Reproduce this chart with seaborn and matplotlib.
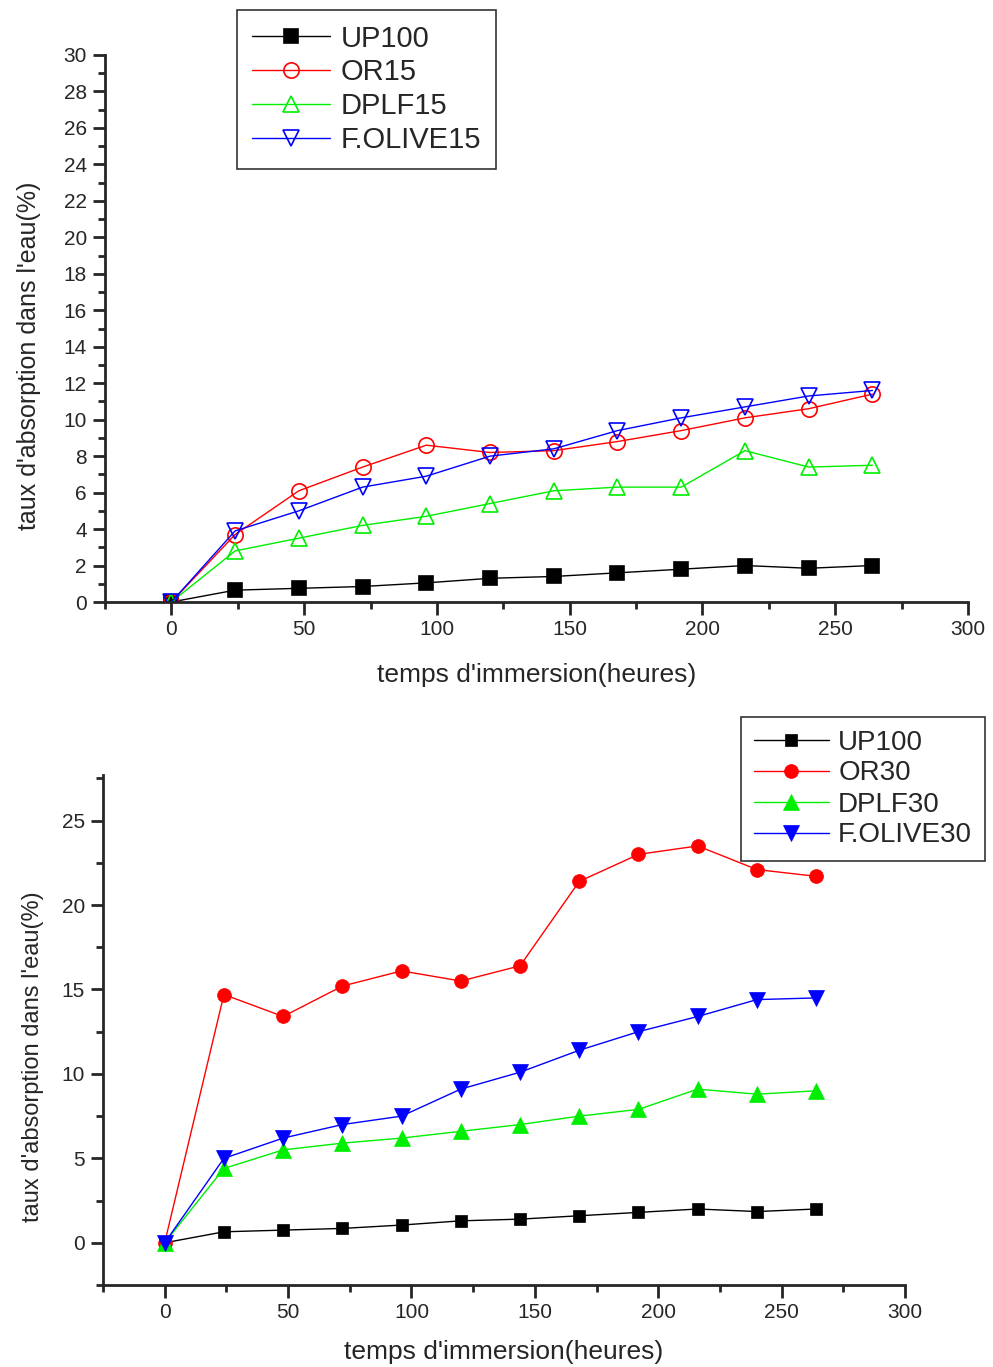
import matplotlib
matplotlib.use("Agg")
import matplotlib.pyplot as plt
import seaborn as sns
import numpy as np
from matplotlib.ticker import MultipleLocator

hours = [0, 24, 48, 72, 96, 120, 144, 168, 192, 216, 240, 264]

up100 = [0, 0.65, 0.75, 0.85, 1.05, 1.3, 1.4, 1.6, 1.8, 2.0, 1.85, 2.0]
or15 = [0, 3.7, 6.1, 7.4, 8.6, 8.2, 8.3, 8.8, 9.4, 10.1, 10.6, 11.4]
dplf15 = [0, 2.8, 3.5, 4.2, 4.7, 5.4, 6.1, 6.3, 6.3, 8.3, 7.4, 7.5]
folive15 = [0, 3.9, 5.0, 6.3, 6.9, 8.0, 8.4, 9.4, 10.1, 10.7, 11.3, 11.6]

or30 = [0, 14.7, 13.4, 15.2, 16.1, 15.5, 16.4, 21.4, 23.0, 23.5, 22.1, 21.7]
dplf30 = [0, 4.4, 5.5, 5.9, 6.2, 6.6, 7.0, 7.5, 7.9, 9.1, 8.8, 9.0]
folive30 = [0, 5.0, 6.2, 7.0, 7.5, 9.1, 10.1, 11.4, 12.5, 13.4, 14.4, 14.5]

labels_top = ["UP100", "OR15", "DPLF15", "F.OLIVE15"]
labels_bot = ["UP100", "OR30", "DPLF30", "F.OLIVE30"]

xlabel = "temps d'immersion(heures)"
ylabel = "taux d'absorption dans l'eau(%)"

sns.set_style("ticks")
plt.rcParams['font.family'] = ['Liberation Sans', 'DejaVu Sans']

fig = plt.figure(figsize=(9.93, 13.67), dpi=100)

ax1 = fig.add_axes([105/993, 1-602/1367, (968-105)/993, (602-55)/1367])
ax2 = fig.add_axes([103/993, 1-1285/1367, (905-103)/993, (1285-775)/1367])

colors = ["black", "#ff0000", "#00ee00", "#0000ff"]
markers = ["s", "o", "^", "v"]

top_series = [up100, or15, dplf15, folive15]
bot_series = [up100, or30, dplf30, folive30]

top_ms = [10, 11, 11, 12]
bot_ms = [9, 10, 11, 11]

for i, (vals, lab) in enumerate(zip(top_series, labels_top)):
    filled = (i == 0)
    sns.lineplot(x=hours, y=vals, ax=ax1, color=colors[i], linewidth=1.0,
                 marker=markers[i], markersize=top_ms[i],
                 markerfacecolor=colors[i] if filled else "none",
                 markeredgecolor=colors[i], markeredgewidth=1.2,
                 label=lab, legend=False)

for i, (vals, lab) in enumerate(zip(bot_series, labels_bot)):
    sns.lineplot(x=hours, y=vals, ax=ax2, color=colors[i], linewidth=1.0,
                 marker=markers[i], markersize=bot_ms[i],
                 markerfacecolor=colors[i], markeredgecolor=colors[i],
                 markeredgewidth=0.5, label=lab, legend=False)

for ax in (ax1, ax2):
    ax.set_xlim(-25, 300)
    ax.xaxis.set_major_locator(MultipleLocator(50))
    ax.xaxis.set_minor_locator(MultipleLocator(25))
    for s in ("top", "right"):
        ax.spines[s].set_visible(False)
    for s in ("left", "bottom"):
        ax.spines[s].set_linewidth(2.0)
    ax.tick_params(which="major", length=9, width=2, labelsize=15, direction="out", pad=4)
    ax.tick_params(which="minor", length=5, width=2, direction="out")

ax1.set_ylim(0, 30)
ax1.yaxis.set_major_locator(MultipleLocator(2))
ax1.yaxis.set_minor_locator(MultipleLocator(1))
ax1.set_xlabel(xlabel, fontsize=19)
ax1.set_ylabel(ylabel, fontsize=18)
ax1.yaxis.set_label_coords(-0.074, 0.45)
ax1.xaxis.set_label_coords(0.5, -0.112)

ax2.set_ylim(-2.5, 27.7)
ax2.yaxis.set_major_locator(MultipleLocator(5))
ax2.yaxis.set_minor_locator(MultipleLocator(2.5))
ax2.set_xlabel(xlabel, fontsize=19)
ax2.set_ylabel(ylabel, fontsize=17)
ax2.yaxis.set_label_coords(-0.074, 0.447)
ax2.xaxis.set_label_coords(0.5, -0.108)

h1, l1 = ax1.get_legend_handles_labels()
leg1 = fig.legend(h1, l1, loc="upper left", bbox_to_anchor=(237/993, 1-10/1367),
                  borderaxespad=0, fontsize=21, frameon=True, fancybox=False,
                  edgecolor="black", handlelength=2.7, labelspacing=0.2,
                  borderpad=0.5, handletextpad=0.35)
leg1.get_frame().set_linewidth(1.2)

h2, l2 = ax2.get_legend_handles_labels()
leg2 = fig.legend(h2, l2, loc="upper left", bbox_to_anchor=(741/993, 1-717/1367),
                  borderaxespad=0, fontsize=20, frameon=True, fancybox=False,
                  edgecolor="black", handlelength=2.7, labelspacing=0.18,
                  borderpad=0.45, handletextpad=0.35)
leg2.get_frame().set_linewidth(1.2)

fig.savefig("out.png", dpi=100)
